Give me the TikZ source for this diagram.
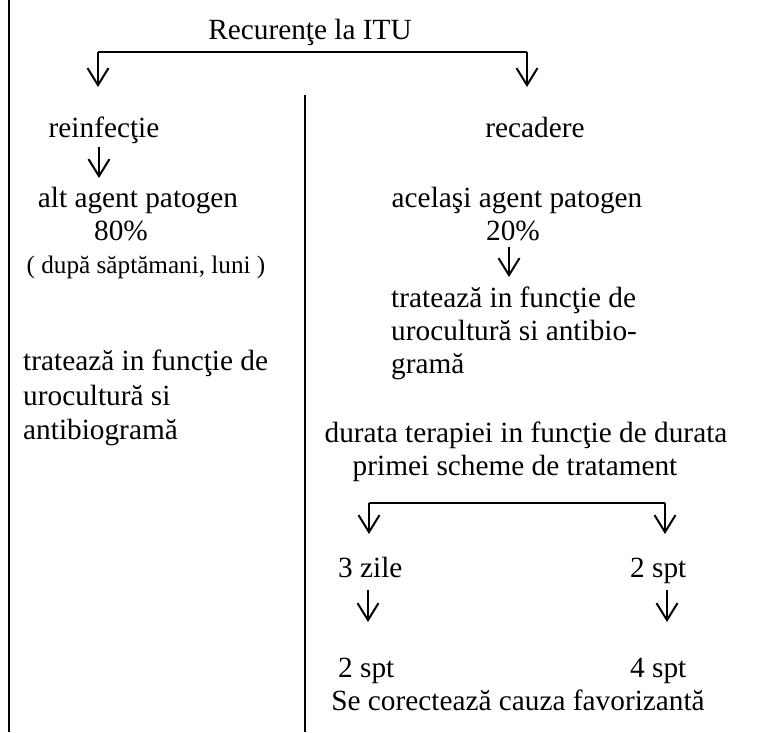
\documentclass[tikz,border=0pt]{standalone}
\usepackage{fontspec}
\setmainfont{Liberation Serif}
\usetikzlibrary{arrows.meta}
\begin{document}
\begin{tikzpicture}[x=1pt,y=-1pt,
  txt/.style={inner sep=0pt, anchor=base, font=\fontsize{29.3}{35}\selectfont},
  txtl/.style={txt, anchor=base west},
  small/.style={txt, font=\fontsize{25.2}{30}\selectfont},
  rulestyle/.style={line width=2.6pt},
  brk/.style={line width=2pt},
  arr/.style={line width=2pt, -{Straight Barb[length=17pt,width=21pt,line width=2pt]}}]
\useasboundingbox (0,0) rectangle (764,732);
% vertical rules
\coordinate (L1) at (9,0);
\coordinate (L2) at (9,732);
\coordinate (M1) at (305,95);
\coordinate (M2) at (305,732);
\draw[rulestyle] (L1) -- (L2);
\draw[rulestyle] (M1) -- (M2);
% title
\node[txt] (title) at (310,39) {Recurenţe la ITU};
\coordinate (bl) at (98,52);
\coordinate (br) at (527,52);
\coordinate (bla) at (98,87);
\coordinate (bra) at (527,87);
\draw[brk] (bl) -- (br);
\draw[arr] (bl) -- (bla);
\draw[arr] (br) -- (bra);
% left column
\node[txt] (reinf) at (104,137) {reinfecţie};
\coordinate (ra1) at (99,147);
\coordinate (ra2) at (99,178);
\draw[arr] (ra1) -- (ra2);
\node[txt] (alt) at (138,207) {alt agent patogen};
\node[txt] (p80) at (121,240) {80\%};
\node[small] (dupa) at (146,273) {( după săptămani, luni )};
\node[txtl] (tl1) at (23,370) {tratează in funcţie de};
\node[txtl] (tl2) at (23,405) {urocultură si};
\node[txtl] (tl3) at (23,439) {antibiogramă};
% right column
\node[txt] (recad) at (535,137) {recadere};
\node[txt] (acel) at (517,207) {acelaşi agent patogen};
\node[txt] (p20) at (513,240) {20\%};
\coordinate (rb1) at (509,247);
\coordinate (rb2) at (509,277);
\draw[arr] (rb1) -- (rb2);
\node[txtl] (tr1) at (391,307) {tratează in funcţie de};
\node[txtl] (tr2) at (391,340) {urocultură si antibio-};
\node[txtl] (tr3) at (391,373) {gramă};
\node[txt] (dur1) at (526,442) {durata terapiei in funcţie de durata};
\node[txt] (dur2) at (515,475) {primei scheme de tratament};
\coordinate (cl) at (369,503);
\coordinate (cr) at (665,503);
\coordinate (cla) at (369,534);
\coordinate (cra) at (665,534);
\draw[brk] (cl) -- (cr);
\draw[arr] (cl) -- (cla);
\draw[arr] (cr) -- (cra);
\node[txtl] (z3) at (338,577) {3 zile};
\node[txtl] (s2a) at (630,577) {2 spt};
\coordinate (da1) at (368,590);
\coordinate (da2) at (368,622);
\coordinate (db1) at (667,590);
\coordinate (db2) at (667,622);
\draw[arr] (da1) -- (da2);
\draw[arr] (db1) -- (db2);
\node[txtl] (s2b) at (338,677) {2 spt};
\node[txtl] (s4) at (630,677) {4 spt};
\node[txt] (secor) at (518,710) {Se corectează cauza favorizantă};
\end{tikzpicture}
\end{document}
